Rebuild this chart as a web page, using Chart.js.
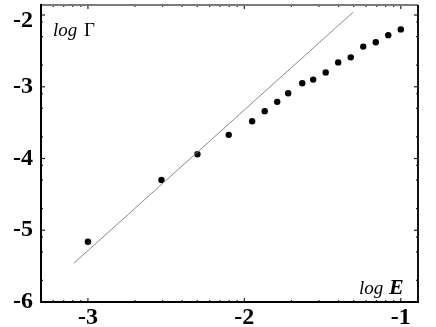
<!DOCTYPE html>
<html>
<head>
<meta charset="utf-8">
<script src="https://cdn.jsdelivr.net/npm/chart.js@4"></script>
<style>
  html, body { margin: 0; padding: 0; background: #fff; }
  #wrap { width: 436px; height: 327px; position: relative; }
</style>
</head>
<body>
<div id="wrap"><canvas id="c" width="436" height="327"></canvas></div>
<script>
// ---- data ----
const logE     = [-3.00, -2.53, -2.30, -2.10, -1.95, -1.87, -1.79, -1.72, -1.63, -1.56, -1.48, -1.40, -1.32, -1.24, -1.16, -1.08, -1.00];
const logGamma = [-5.16, -4.30, -3.94, -3.67, -3.48, -3.34, -3.21, -3.09, -2.95, -2.90, -2.80, -2.66, -2.59, -2.44, -2.38, -2.28, -2.20];
const fitLineX = [-3.09, -1.305];
const fitLineY = [-5.46, -1.96];
const xMajorTicks = [-3, -2, -1];
const yMajorTicks = [-6, -5, -4, -3, -2];
const xMinorFactors = [2, 3, 4, 5, 6, 7, 8, 9];
const yMinorFactors = [2, 5, 8];
const xLabel = ['log ', 'E'];
const yLabel = ['log ', 'Γ'];

const X_MIN = -3.30, X_MAX = -0.89, Y_MIN = -6, Y_MAX = -1.86;

function minorTicks(factors, lo, hi) {
  const out = [];
  for (let d = Math.floor(lo) - 1; d <= Math.ceil(hi); d++) {
    for (const f of factors) {
      const v = d + Math.log10(f);
      if (v > lo && v < hi) out.push(v);
    }
  }
  return out;
}
const xMinor = minorTicks(xMinorFactors, X_MIN, X_MAX);
const yMinor = minorTicks(yMinorFactors, Y_MIN, Y_MAX);

const framePlugin = {
  id: 'frame',
  afterDraw(chart) {
    const ctx = chart.ctx;
    const a = chart.chartArea;
    const xs = chart.scales.x, ys = chart.scales.y;
    ctx.save();
    ctx.strokeStyle = '#222';
    ctx.lineWidth = 1.2;
    const tick = (x1, y1, x2, y2) => { ctx.beginPath(); ctx.moveTo(x1, y1); ctx.lineTo(x2, y2); ctx.stroke(); };
    xMajorTicks.forEach(v => { const p = xs.getPixelForValue(v); tick(p, a.bottom, p, a.bottom - 4); tick(p, a.top, p, a.top + 4); });
    xMinor.forEach(v => { const p = xs.getPixelForValue(v); tick(p, a.bottom, p, a.bottom - 2); tick(p, a.top, p, a.top + 2); });
    yMajorTicks.forEach(v => { const p = ys.getPixelForValue(v); tick(a.left, p, a.left + 4, p); tick(a.right, p, a.right - 4, p); });
    yMinor.forEach(v => { const p = ys.getPixelForValue(v); tick(a.left, p, a.left + 2, p); tick(a.right, p, a.right - 2, p); });
    ctx.lineWidth = 2;
    ctx.strokeStyle = '#7a7a7a';
    tick(a.left, a.top, a.right, a.top);
    ctx.strokeStyle = '#111';
    tick(a.right, a.top, a.right, a.bottom);
    ctx.strokeStyle = '#000';
    tick(a.left, a.top - 1, a.left, a.bottom + 1);
    tick(a.left - 1, a.bottom, a.right + 1, a.bottom);
    ctx.fillStyle = '#000';
    ctx.textBaseline = 'alphabetic';
    ctx.font = 'italic 19px "Liberation Serif"';
    ctx.fillText(yLabel[0], a.left + 12, a.top + 31);
    let w = ctx.measureText(yLabel[0]).width;
    ctx.font = '19px "Liberation Serif"';
    ctx.fillText(yLabel[1], a.left + 12 + w + 2, a.top + 31);
    ctx.font = 'italic 19px "Liberation Serif"';
    ctx.fillText(xLabel[0], a.right - 59, a.bottom - 8);
    w = ctx.measureText(xLabel[0]).width;
    ctx.font = 'italic bold 22px "Liberation Serif"';
    ctx.fillText(xLabel[1], a.right - 59 + w + 1, a.bottom - 8);
    ctx.restore();
  }
};

new Chart(document.getElementById('c'), {
  type: 'scatter',
  data: {
    datasets: [
      {
        type: 'line',
        data: fitLineX.map((x, i) => ({ x, y: fitLineY[i] })),
        borderColor: '#8a8a8a',
        borderWidth: 1,
        pointRadius: 0,
        fill: false
      },
      {
        data: logE.map((x, i) => ({ x, y: logGamma[i] })),
        backgroundColor: '#000',
        borderColor: '#000',
        pointRadius: 3.2,
        pointBorderWidth: 0
      }
    ]
  },
  options: {
    responsive: false,
    animation: false,
    events: [],
    layout: { padding: { top: 5, right: 18, left: 0, bottom: 0 } },
    plugins: { legend: { display: false }, tooltip: { enabled: false } },
    scales: {
      x: {
        type: 'linear', min: X_MIN, max: X_MAX,
        grid: { display: false, drawTicks: false },
        border: { display: false },
        afterBuildTicks: s => { s.ticks = xMajorTicks.map(v => ({ value: v })); },
        afterFit: s => { s.height = 25; s.paddingLeft = 0; s.paddingRight = 0; },
        ticks: {
          color: '#000', padding: 4,
          font: { family: 'Liberation Serif', weight: 'bold', size: 24, lineHeight: 1 },
          callback: v => String(v)
        }
      },
      y: {
        type: 'linear', min: Y_MIN, max: Y_MAX,
        grid: { display: false, drawTicks: false },
        border: { display: false },
        afterBuildTicks: s => { s.ticks = yMajorTicks.map(v => ({ value: v })); },
        afterFit: s => { s.width = 41; s.paddingTop = 0; s.paddingBottom = 0; },
        ticks: {
          color: '#000', padding: 8,
          font: c => ({ family: 'Liberation Serif', weight: 'bold', size: 24,
                        lineHeight: (c.tick && c.tick.value === yMajorTicks[yMajorTicks.length - 1]) ? 0.5 : 1 }),
          callback: v => v === yMajorTicks[yMajorTicks.length - 1] ? ['', String(v)] : String(v)
        }
      }
    }
  },
  plugins: [framePlugin]
});
</script>
</body>
</html>
